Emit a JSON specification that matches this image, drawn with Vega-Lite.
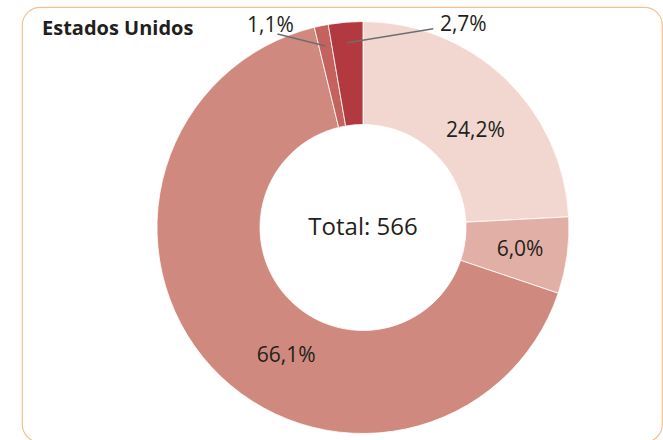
{
  "$schema": "https://vega.github.io/schema/vega-lite/v6.json",
  "width": 663,
  "height": 440,
  "autosize": {"type": "fit", "contains": "padding"},
  "padding": {"left": 22, "top": 7, "right": 1, "bottom": -2},
  "background": "white",
  "title": {
    "text": "Estados Unidos",
    "anchor": "start",
    "frame": "group",
    "dx": 20,
    "offset": -32,
    "fontSize": 20,
    "fontWeight": "bold",
    "font": "Open Sans",
    "color": "#231F20"
  },
  "config": {
    "view": {"stroke": "#F6C18C", "strokeWidth": 1.2, "cornerRadius": 18},
    "font": "Open Sans"
  },
  "data": {
    "values": [
      {"k": 1, "label": "24,2%", "value": 24.2},
      {"k": 2, "label": "6,0%", "value": 6.0},
      {"k": 3, "label": "66,1%", "value": 66.1},
      {"k": 4, "label": "1,1%", "value": 1.1},
      {"k": 5, "label": "2,7%", "value": 2.7}
    ]
  },
  "layer": [
    {
      "mark": {"type": "arc", "outerRadius": 206, "innerRadius": 103, "stroke": "white", "strokeWidth": 0.8},
      "encoding": {
        "x": {"datum": 0, "type": "quantitative", "scale": {"domain": [-1.6553, 1.4515], "nice": false, "zero": false}, "axis": null},
        "y": {"datum": 0, "type": "quantitative", "scale": {"domain": [-1.0413, 1.0704], "nice": false, "zero": false}, "axis": null},
        "theta": {"field": "value", "type": "quantitative", "stack": true},
        "order": {"field": "k", "type": "quantitative"},
        "color": {
          "field": "label",
          "type": "nominal",
          "scale": {
            "domain": ["24,2%", "6,0%", "66,1%", "1,1%", "2,7%"],
            "range": ["#F2D7D0", "#E2AFA6", "#CF897E", "#C4625D", "#B2393F"]
          },
          "legend": null
        }
      }
    },
    {
      "transform": [
        {"stack": "value", "groupby": [], "sort": [{"field": "k", "order": "ascending"}], "as": ["s0", "s1"], "offset": "normalize"},
        {"calculate": "PI*(datum.s0+datum.s1)", "as": "a"},
        {"calculate": "0.75*sin(datum.a)", "as": "xm"},
        {"calculate": "0.75*cos(datum.a)", "as": "ym"},
        {"calculate": "0.9*sin(datum.a)", "as": "xo"},
        {"calculate": "0.9*cos(datum.a)", "as": "yo"}
      ],
      "layer": [
        {
          "transform": [{"filter": "datum.k == 4"}],
          "mark": {"type": "rule", "color": "#6D6E71", "strokeWidth": 1.5, "x2Offset": -48, "y2Offset": -12},
          "encoding": {
            "x": {"field": "xo", "type": "quantitative", "scale": {"domain": [-1.6553, 1.4515], "nice": false, "zero": false}, "axis": null},
            "y": {"field": "yo", "type": "quantitative", "scale": {"domain": [-1.0413, 1.0704], "nice": false, "zero": false}, "axis": null},
            "x2": {"field": "xo"},
            "y2": {"field": "yo"}
          }
        },
        {
          "transform": [{"filter": "datum.k == 5"}],
          "mark": {"type": "rule", "color": "#6D6E71", "strokeWidth": 1.5, "x2Offset": 86, "y2Offset": -14},
          "encoding": {
            "x": {"field": "xo", "type": "quantitative", "scale": {"domain": [-1.6553, 1.4515], "nice": false, "zero": false}, "axis": null},
            "y": {"field": "yo", "type": "quantitative", "scale": {"domain": [-1.0413, 1.0704], "nice": false, "zero": false}, "axis": null},
            "x2": {"field": "xo"},
            "y2": {"field": "yo"}
          }
        },
        {
          "transform": [{"filter": "datum.k == 1"}],
          "mark": {"type": "text", "fontSize": 21, "color": "#231F20", "align": "center", "baseline": "middle", "dx": 6, "dy": 16},
          "encoding": {
            "x": {"field": "xm", "type": "quantitative", "scale": {"domain": [-1.6553, 1.4515], "nice": false, "zero": false}, "axis": null},
            "y": {"field": "ym", "type": "quantitative", "scale": {"domain": [-1.0413, 1.0704], "nice": false, "zero": false}, "axis": null},
            "text": {"field": "label"}
          }
        },
        {
          "transform": [{"filter": "datum.k == 2"}],
          "mark": {"type": "text", "fontSize": 21, "color": "#231F20", "align": "center", "baseline": "middle", "dx": 4, "dy": 1},
          "encoding": {
            "x": {"field": "xm", "type": "quantitative", "scale": {"domain": [-1.6553, 1.4515], "nice": false, "zero": false}, "axis": null},
            "y": {"field": "ym", "type": "quantitative", "scale": {"domain": [-1.0413, 1.0704], "nice": false, "zero": false}, "axis": null},
            "text": {"field": "label"}
          }
        },
        {
          "transform": [{"filter": "datum.k == 3"}],
          "mark": {"type": "text", "fontSize": 21, "color": "#231F20", "align": "center", "baseline": "middle", "dx": 37, "dy": 24},
          "encoding": {
            "x": {"field": "xm", "type": "quantitative", "scale": {"domain": [-1.6553, 1.4515], "nice": false, "zero": false}, "axis": null},
            "y": {"field": "ym", "type": "quantitative", "scale": {"domain": [-1.0413, 1.0704], "nice": false, "zero": false}, "axis": null},
            "text": {"field": "label"}
          }
        },
        {
          "transform": [{"filter": "datum.k == 4"}],
          "mark": {"type": "text", "fontSize": 21, "color": "#231F20", "align": "center", "baseline": "middle", "dx": -55, "dy": -20},
          "encoding": {
            "x": {"field": "xo", "type": "quantitative", "scale": {"domain": [-1.6553, 1.4515], "nice": false, "zero": false}, "axis": null},
            "y": {"field": "yo", "type": "quantitative", "scale": {"domain": [-1.0413, 1.0704], "nice": false, "zero": false}, "axis": null},
            "text": {"field": "label"}
          }
        },
        {
          "transform": [{"filter": "datum.k == 5"}],
          "mark": {"type": "text", "fontSize": 21, "color": "#231F20", "align": "center", "baseline": "middle", "dx": 116, "dy": -18},
          "encoding": {
            "x": {"field": "xo", "type": "quantitative", "scale": {"domain": [-1.6553, 1.4515], "nice": false, "zero": false}, "axis": null},
            "y": {"field": "yo", "type": "quantitative", "scale": {"domain": [-1.0413, 1.0704], "nice": false, "zero": false}, "axis": null},
            "text": {"field": "label"}
          }
        }
      ]
    },
    {
      "data": {"values": [{"t": "Total: 566"}]},
      "mark": {"type": "text", "fontSize": 24, "color": "#231F20", "align": "center", "baseline": "middle", "dy": 1},
      "encoding": {
        "x": {"datum": 0, "type": "quantitative", "scale": {"domain": [-1.6553, 1.4515], "nice": false, "zero": false}, "axis": null},
        "y": {"datum": 0, "type": "quantitative", "scale": {"domain": [-1.0413, 1.0704], "nice": false, "zero": false}, "axis": null},
        "text": {"field": "t"}
      }
    }
  ]
}
